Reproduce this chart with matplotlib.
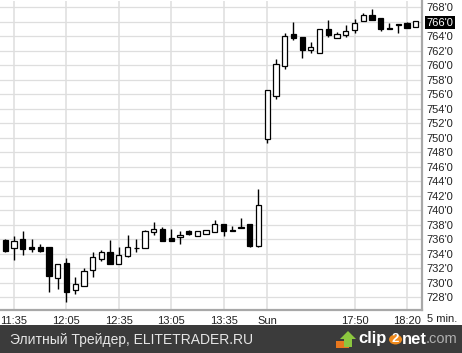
import matplotlib
matplotlib.use("Agg")
import matplotlib.pyplot as plt
from matplotlib.patches import Rectangle, Circle, Polygon

# 5 minute candles (open, high, low, close)
opens = [735.9, 734.8, 736.1, 734.9, 735.0, 734.9, 730.7, 732.8, 729.0, 729.5,
         731.8, 733.3, 734.2, 732.6, 733.7, 734.85, 734.8, 737.0, 737.4, 736.2,
         736.3, 737.2, 736.5, 736.7, 737.0, 738.1, 737.28, 737.5, 738.1, 735.1,
         749.9, 755.8, 759.9, 764.3, 763.9, 762.1, 761.7, 765.0, 763.7, 764.2,
         764.9, 766.1, 767.0, 766.5, 765.15, 765.6, 765.9, 765.3]
highs = [736.1, 736.5, 737.2, 736.1, 735.35, 734.9, 732.6, 733.4, 730.8, 732.1,
         734.3, 734.5, 735.9, 734.9, 736.6, 736.1, 737.3, 738.4, 737.7, 737.4,
         737.2, 737.3, 737.2, 737.3, 738.6, 738.1, 737.8, 738.9, 738.1, 743.0,
         756.6, 760.9, 764.4, 766.0, 763.9, 763.2, 765.0, 766.25, 764.55, 765.6,
         766.4, 767.2, 767.7, 766.5, 765.8, 765.6, 766.0, 766.15]
lows = [734.2, 733.1, 733.8, 734.3, 734.3, 728.8, 729.2, 727.3, 728.5, 729.5,
        730.8, 733.0, 732.6, 732.6, 733.5, 734.3, 734.8, 736.6, 735.7, 735.7,
        735.35, 736.6, 736.5, 736.7, 737.0, 736.5, 737.1, 737.5, 735.0, 735.0,
        749.3, 755.4, 759.45, 763.5, 761.0, 761.7, 761.7, 763.9, 763.7, 763.9,
        764.4, 766.1, 766.25, 764.7, 765.15, 764.4, 765.1, 765.3]
closes = [734.4, 735.8, 734.7, 734.7, 734.4, 731.0, 732.6, 728.7, 729.9, 731.6,
          733.5, 734.2, 732.6, 733.8, 734.9, 734.75, 737.2, 737.4, 735.7, 735.7,
          736.6, 736.7, 737.2, 737.3, 738.1, 737.1, 737.14, 737.7, 735.1, 740.7,
          756.6, 760.2, 764.0, 763.7, 762.1, 762.5, 765.0, 764.2, 764.3, 764.7,
          765.8, 767.0, 766.3, 765.0, 765.05, 765.55, 765.2, 766.1]

tick_pos = [1, 7, 13, 19, 25, 30, 40, 46]
tick_labels = ["11:35", "12:05", "12:35", "13:05", "13:35", "Sun", "17:50", "18:20"]
price_ticks = list(range(728, 769, 2))
last_price = 766

plt.rcParams["font.family"] = ["Liberation Sans", "DejaVu Sans"]

fig = plt.figure(figsize=(4.62, 3.53), dpi=100)
W, H = 462.0, 353.0
ax = fig.add_axes([0, (H - 310) / H, 422 / W, 309 / H])

# grid
for p in price_ticks:
    ax.axhline(p, color="#dedede", lw=0.9, zorder=0)
for t in tick_pos:
    ax.axvline(t, color="#dedede", lw=1.1, zorder=0)

# candles: wick first, body on top
x = list(range(len(opens)))
ax.vlines(x, lows, highs, color="black", lw=1.0, zorder=2)
for i in x:
    o, c = opens[i], closes[i]
    bottom = min(o, c)
    height = max(abs(c - o), 0.12)
    face = "white" if c > o else "black"
    ax.bar(i, height, bottom=bottom, width=0.6, facecolor=face,
           edgecolor="black", lw=0.9, zorder=3)

ax.set_xlim(-0.61, 47.73)
ax.set_ylim(726.25, 768.87)

for s in ["left", "top"]:
    ax.spines[s].set_visible(False)
for s in ["right", "bottom"]:
    ax.spines[s].set_color("#a8a8a8")
    ax.spines[s].set_linewidth(1.6)

ax.yaxis.tick_right()
ax.set_yticks(price_ticks)
ax.set_yticklabels([f"{p}'0" for p in price_ticks])
ax.tick_params(axis="y", length=0, pad=3, labelsize=8, colors="#222222")
for lbl, p in zip(ax.get_yticklabels(), price_ticks):
    if p == last_price:
        lbl.set_color("white")
        lbl.set_bbox(dict(facecolor="black", edgecolor="none", pad=1.2))

ax.set_xticks(tick_pos)
ax.set_xticklabels(tick_labels)
ax.tick_params(axis="x", length=0, pad=4, labelsize=8, colors="#222222")
fig.text(427 / W, 1 - 319 / H, "5 min.", fontsize=8, color="#222222",
         ha="left", va="center")

# bottom banner
fig.patches.append(Rectangle((0, 0), 1, 28 / H, transform=fig.transFigure,
                             facecolor="#3b3b3b", edgecolor="none"))
fig.text(10 / W, 1 - 340 / H, "Элитный Трейдер, ELITETRADER.RU",
         fontsize=10, color="#e6e6e6", ha="left", va="center")

# clip2net logo
fig.patches.append(Rectangle((336 / W, 1 - 348 / H), 13 / W, 7 / H,
                             transform=fig.transFigure, facecolor="#e8771e",
                             edgecolor="none"))
fig.patches.append(Polygon([(344 / W, 1 - 347 / H), (344 / W, 1 - 339 / H),
                            (340 / W, 1 - 339 / H), (348 / W, 1 - 331 / H),
                            (356 / W, 1 - 339 / H), (352 / W, 1 - 339 / H),
                            (352 / W, 1 - 347 / H)],
                           transform=fig.transFigure, facecolor="#8cc63f",
                           edgecolor="none"))
fig.text(358 / W, 1 - 339 / H, "clip", fontsize=12, fontweight="bold",
         color="white", ha="left", va="center")
fig.patches.append(Circle((395.5 / W, 1 - 339.5 / H), 6.5 / W,
                          transform=fig.transFigure, facecolor="#f08a1c",
                          edgecolor="none"))
fig.text(395.5 / W, 1 - 339.5 / H, "2", fontsize=9.5, fontweight="bold",
         color="white", ha="center", va="center")
fig.text(401.5 / W, 1 - 339 / H, "net", fontsize=12, fontweight="bold",
         color="white", ha="left", va="center")
fig.text(426 / W, 1 - 339 / H, ".com", fontsize=10.5, color="#b0b0b0",
         ha="left", va="center", zorder=5)

fig.savefig("out.png", dpi=100, facecolor="white")
